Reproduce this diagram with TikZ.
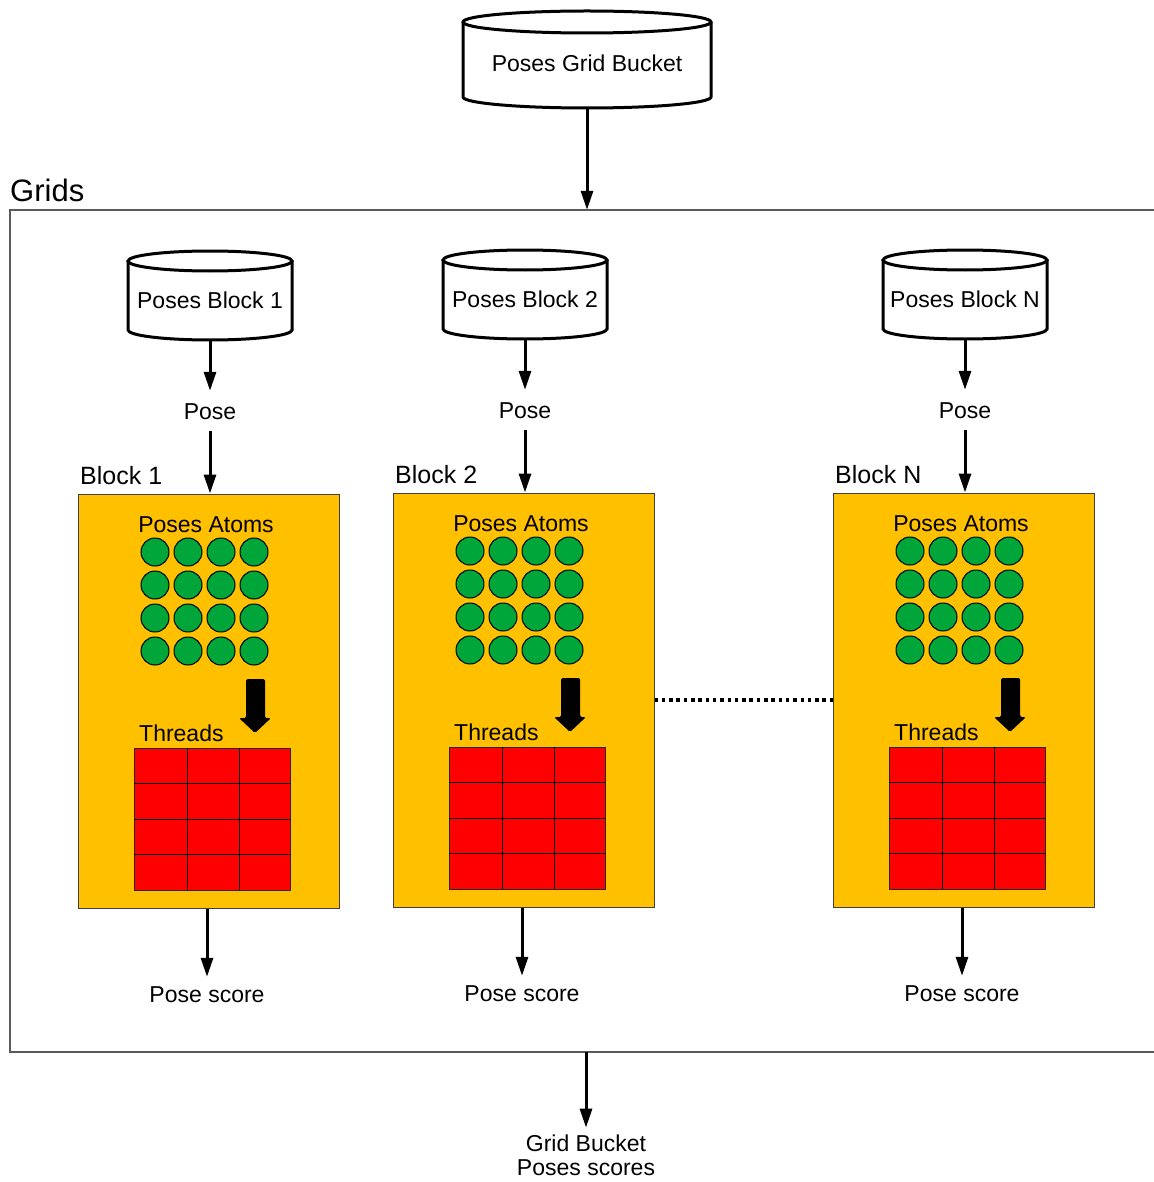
\documentclass[tikz,border=0pt]{standalone}
\usepackage{fontspec}
\setmainfont{Liberation Sans}
\usetikzlibrary{arrows.meta}
\definecolor{orangeY}{RGB}{255,192,0}
\definecolor{atomgreen}{RGB}{0,166,58}
\definecolor{framegray}{RGB}{90,90,90}
\tikzset{
  cylline/.style={draw=black, line width=3pt, fill=white},
  conn/.style={draw=black, line width=3pt, -{Triangle[length=19pt,width=12pt]}},
  lbl/.style={font=\fontsize{23}{24}\selectfont, inner sep=0pt, text height=16.5pt, text depth=0pt},
  blockbox/.style={draw=black!75, line width=1pt, fill=orangeY, minimum width=261pt, minimum height=414pt, inner sep=0pt},
  atom/.style={circle, draw=black, line width=1pt, fill=atomgreen, minimum size=28pt, inner sep=0pt},
  thrgrid/.style={draw=black!85, line width=1pt, fill=red, minimum width=156pt, minimum height=142pt, inner sep=0pt},
  gridline/.style={draw=black, line width=1pt},
  bigarrow/.style={fill=black, rounded corners=1.5pt},
}
\newcommand\poseblock[4]{%
\begin{scope}[shift={(#1,#2)}]
  % cylinder
  \path[cylline] (128,261) -- (128,330) arc[start angle=180, end angle=0, x radius=82, y radius=10] -- (292,261);
  \path[cylline] (210,261) ellipse[x radius=82, y radius=10];
  \node[lbl, minimum height=82pt] (cyl#3) at (210,300) {Poses Block #4};
  \node[lbl, minimum height=40pt] (pose#3) at (210,411) {Pose};
  \draw[conn] (cyl#3.south) -- (pose#3.north);
  \node[blockbox] (box#3) at (208.5,701) {};
  \node[lbl, anchor=west, font=\fontsize{25}{26}\selectfont] (blab#3) at (80,476) {Block #4};
  \draw[conn] (pose#3.south) -- (pose#3.south |- box#3.north);
  \node[lbl] (atoms#3) at (206,524) {Poses Atoms};
  \foreach \i in {0,1,2,3}{
    \foreach \j in {0,1,2,3}{
      \node[atom] (a#3-\i-\j) at (155+33*\i,552+33*\j) {};
    }
  }
  \path[bigarrow] (246,679) -- (265,679) -- (265,718) -- (271,718) -- (255,733) -- (239,718) -- (246,718) -- cycle;
  \node[lbl, anchor=west] (thlab#3) at (139,733) {Threads};
  \node[thrgrid] (thr#3) at (212,819) {};
  \foreach \x in {187,239}{ \draw[gridline] (\x,748) -- (\x,890); }
  \foreach \y in {783,819,854}{ \draw[gridline] (134,\y) -- (290,\y); }
  \node[lbl, minimum height=34pt] (score#3) at (207,994) {Pose score};
  \draw[conn] (score#3.north |- box#3.south) -- (score#3.north);
\end{scope}}
\begin{document}
\begin{tikzpicture}[x=1pt,y=-1pt]
  \useasboundingbox[fill=white] (0,0) rectangle (1153,1182);
  % top bucket
  \path[cylline] (463,22) -- (463,97) arc[start angle=180, end angle=0, x radius=124, y radius=11] -- (711,22);
  \path[cylline] (587,22) ellipse[x radius=124, y radius=11];
  \node[lbl, minimum height=90pt] (pgb) at (587,63) {Poses Grid Bucket};
  % grids frame
  \node[inner sep=0pt, minimum width=1150pt, minimum height=842pt] (grids) at (585,631) {};
  \draw[framegray, line width=1.3pt] (1160,210) -- (10,210) -- (10,1052) -- (1160,1052);
  \node[anchor=base west, inner sep=0pt, font=\fontsize{31}{32}\selectfont] (gridslab) at (10,202) {Grids};
  \draw[conn] (pgb.south) -- (pgb.south |- grids.north);
  % blocks
  \poseblock{0}{0}{1}{1}
  \poseblock{315}{-1}{2}{2}
  \poseblock{755}{-1}{N}{N}
  \draw[black, line width=3.5pt, dash pattern=on 3.5pt off 3.8pt] (box2.east) -- (boxN.west);
  % output
  \node[font=\fontsize{23}{23.5}\selectfont, align=center, inner xsep=0pt, inner ysep=7.5pt] (out) at (586,1155.5) {Grid Bucket\\Poses scores};
  \draw[conn] (out.north |- grids.south) -- (out.north);
\end{tikzpicture}
\end{document}
